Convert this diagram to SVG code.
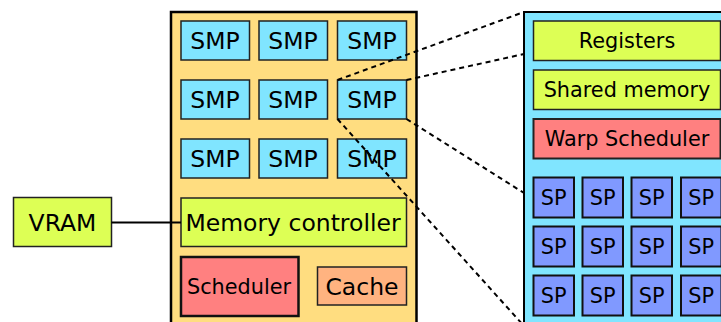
<svg xmlns="http://www.w3.org/2000/svg" width="721" height="322" viewBox="0 0 721 322">
<style>
text{font-family:"DejaVu Sans","Liberation Sans",sans-serif;fill:#000;text-anchor:middle}
.big{font-size:23.5px}
.sm{font-size:20.8px}
.smp{fill:#80e5ff;stroke:#222;stroke-width:1.5}
.lime{fill:#ddff55;stroke:#222;stroke-width:1.5}
.sp{fill:#8099ff;stroke:#111;stroke-width:2}
.dash{fill:none;stroke:#000;stroke-width:2;stroke-dasharray:5,4}
</style>
<g id="gpu">
<rect x="171" y="12" width="245.5" height="320" fill="#ffdd80" stroke="#000" stroke-width="2.5"/>
</g>
<g id="smp-1-1"><rect class="smp" x="181" y="21" width="68.5" height="39"/><text class="big" x="215" y="48.7">SMP</text></g>
<g id="smp-1-2"><rect class="smp" x="259" y="21" width="68.5" height="39"/><text class="big" x="293" y="48.7">SMP</text></g>
<g id="smp-1-3"><rect class="smp" x="337.5" y="21" width="69" height="39"/><text class="big" x="372" y="48.7">SMP</text></g>
<g id="smp-2-1"><rect class="smp" x="181" y="80" width="68.5" height="39"/><text class="big" x="215" y="107.7">SMP</text></g>
<g id="smp-2-2"><rect class="smp" x="259" y="80" width="68.5" height="39"/><text class="big" x="293" y="107.7">SMP</text></g>
<g id="smp-2-3"><rect class="smp" x="337.5" y="80" width="69" height="39"/><text class="big" x="372" y="107.7">SMP</text></g>
<g id="smp-3-1"><rect class="smp" x="181" y="139" width="68.5" height="39"/><text class="big" x="215" y="166.7">SMP</text></g>
<g id="smp-3-2"><rect class="smp" x="259" y="139" width="68.5" height="39"/><text class="big" x="293" y="166.7">SMP</text></g>
<g id="smp-3-3"><rect class="smp" x="337.5" y="139" width="69" height="39"/><text class="big" x="372" y="166.7">SMP</text></g>
<g id="memory-controller"><rect class="lime" x="181" y="198" width="225.5" height="48.5"/><text class="big" x="293" y="230.7">Memory controller</text></g>
<g id="scheduler"><rect x="181" y="257" width="117.5" height="59" fill="#ff8080" stroke="#111" stroke-width="2.5"/><text class="sm" x="239" y="294">Scheduler</text></g>
<g id="cache"><rect x="317.5" y="267" width="89" height="38" fill="#ffb380" stroke="#222" stroke-width="1.5"/><text class="big" x="362" y="294.7">Cache</text></g>
<g id="vram"><rect class="lime" x="13.5" y="197.5" width="98" height="49"/><text class="big" x="62.5" y="230.7">VRAM</text></g>
<g id="sm">
<rect x="524" y="12" width="210" height="320" fill="#80e5ff" stroke="#000" stroke-width="2"/>
</g>
<g id="registers"><rect class="lime" x="533.5" y="21" width="187" height="39.5" stroke-width="2"/><text class="sm" x="627" y="48">Registers</text></g>
<g id="shared-memory"><rect class="lime" x="533.5" y="70" width="187" height="39.5" stroke-width="2"/><text class="sm" x="627" y="97">Shared memory</text></g>
<g id="warp-scheduler"><rect x="533.5" y="119" width="187" height="39.5" fill="#ff8080" stroke="#222" stroke-width="2"/><text class="sm" x="627" y="146">Warp Scheduler</text></g>
<g id="sp-1-1"><rect class="sp" x="533.5" y="177.5" width="40.5" height="40"/><text class="sm" x="553.7" y="205">SP</text></g>
<g id="sp-1-2"><rect class="sp" x="582.5" y="177.5" width="40.5" height="40"/><text class="sm" x="602.7" y="205">SP</text></g>
<g id="sp-1-3"><rect class="sp" x="631.5" y="177.5" width="40.5" height="40"/><text class="sm" x="651.7" y="205">SP</text></g>
<g id="sp-1-4"><rect class="sp" x="681" y="177.5" width="40.5" height="40"/><text class="sm" x="701.2" y="205">SP</text></g>
<g id="sp-2-1"><rect class="sp" x="533.5" y="226.5" width="40.5" height="40"/><text class="sm" x="553.7" y="254">SP</text></g>
<g id="sp-2-2"><rect class="sp" x="582.5" y="226.5" width="40.5" height="40"/><text class="sm" x="602.7" y="254">SP</text></g>
<g id="sp-2-3"><rect class="sp" x="631.5" y="226.5" width="40.5" height="40"/><text class="sm" x="651.7" y="254">SP</text></g>
<g id="sp-2-4"><rect class="sp" x="681" y="226.5" width="40.5" height="40"/><text class="sm" x="701.2" y="254">SP</text></g>
<g id="sp-3-1"><rect class="sp" x="533.5" y="275.5" width="40.5" height="40"/><text class="sm" x="553.7" y="303">SP</text></g>
<g id="sp-3-2"><rect class="sp" x="582.5" y="275.5" width="40.5" height="40"/><text class="sm" x="602.7" y="303">SP</text></g>
<g id="sp-3-3"><rect class="sp" x="631.5" y="275.5" width="40.5" height="40"/><text class="sm" x="651.7" y="303">SP</text></g>
<g id="sp-3-4"><rect class="sp" x="681" y="275.5" width="40.5" height="40"/><text class="sm" x="701.2" y="303">SP</text></g>
<g id="connectors">
<line x1="111.5" y1="222.5" x2="181" y2="222.5" stroke="#000" stroke-width="1.8"/>
<line class="dash" x1="337.5" y1="80" x2="524" y2="12"/>
<line class="dash" x1="406.5" y1="80" x2="524" y2="54"/>
<line class="dash" x1="406.5" y1="119" x2="524" y2="193"/>
<line class="dash" x1="337.5" y1="119" x2="524" y2="326"/>
</g>
</svg>
